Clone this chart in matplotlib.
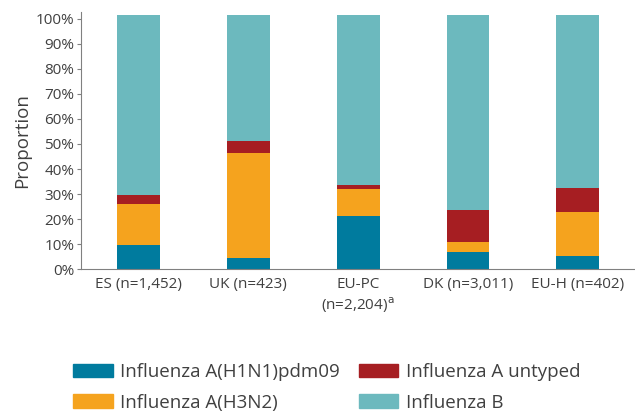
import matplotlib.pyplot as plt
from matplotlib.patches import Patch

categories = ['ES (n=1,452)', 'UK (n=423)', 'EU-PC\n(n=2,204)$^{\\mathrm{a}}$', 'DK (n=3,011)', 'EU-H (n=402)']
h1n1 = [9.6, 4.5, 21.3, 6.8, 5.3]
h3n2 = [16.5, 42.0, 10.6, 4.1, 17.5]
untyped = [3.5, 4.5, 1.8, 12.7, 9.5]
flu_b = [71.9, 50.6, 67.9, 78.0, 69.3]

series = [h1n1, h3n2, untyped, flu_b]
names = ['Influenza A(H1N1)pdm09', 'Influenza A(H3N2)', 'Influenza A untyped', 'Influenza B']
colors = ['#007B9E', '#F5A31E', '#A61E22', '#6CB9BE']

plt.rcParams['font.family'] = ['Open Sans', 'DejaVu Sans']
text_color = '#404040'

fig = plt.figure(figsize=(6.35, 4.12), dpi=100)
ax = fig.add_axes([0.128, 0.347, 0.872, 0.624])

x = list(range(len(categories)))
bottom = [0] * len(categories)
for vals, col in zip(series, colors):
    ax.bar(x, vals, bottom=bottom, width=0.39, color=col, linewidth=0)
    bottom = [b + v for b, v in zip(bottom, vals)]

ax.set_xlim(-0.52, 4.52)
ax.set_ylim(0, 102.8)
ax.set_yticks(range(0, 101, 10))
ax.set_yticklabels([f'{v}%' for v in range(0, 101, 10)], color=text_color, fontsize=11)
ax.set_xticks(x)
ax.set_xticklabels(categories, color=text_color, fontsize=11, va='top')
ax.tick_params(axis='x', length=0, pad=6)
ax.tick_params(axis='y', length=3, color='#808080', pad=2)
ax.set_ylabel('Proportion', color=text_color, fontsize=13.5, labelpad=3)
for s in ['top', 'right']:
    ax.spines[s].set_visible(False)
for s in ['left', 'bottom']:
    ax.spines[s].set_color('#808080')

handles = [Patch(color=c, label=n) for c, n in zip(colors, names)]
fig.legend(handles, names,
           loc='lower left', bbox_to_anchor=(0.089, -0.04), ncol=2, frameon=False,
           fontsize=13.5, labelcolor=text_color, handlelength=2.1, handleheight=0.7,
           columnspacing=1.0, handletextpad=0.4, labelspacing=0.65)

fig.savefig('out.png', dpi=100)
